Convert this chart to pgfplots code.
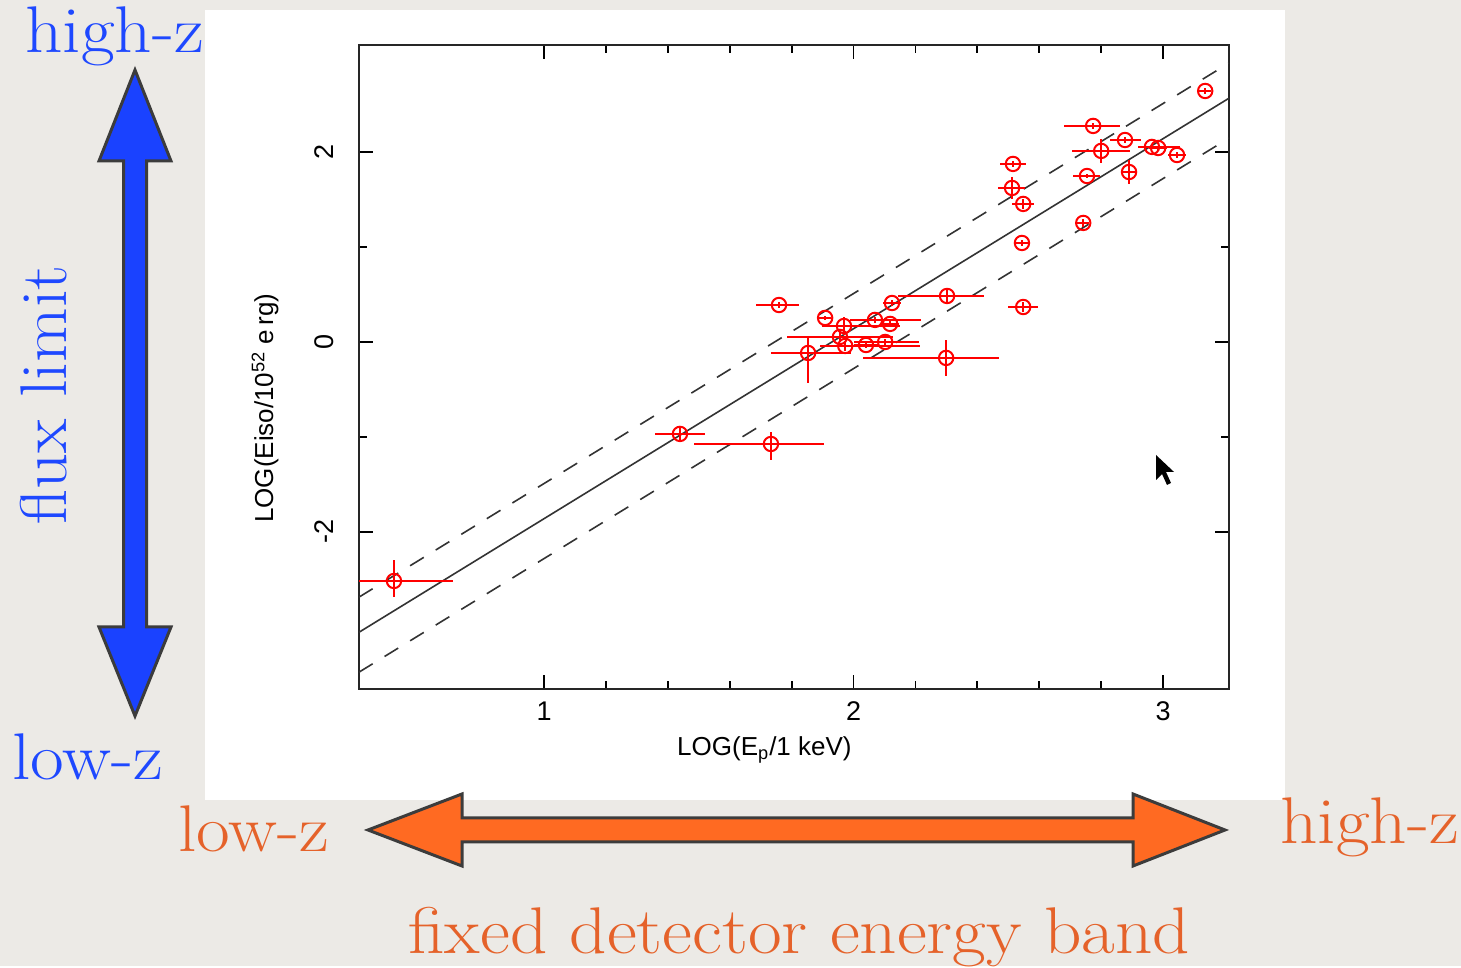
\documentclass[border=0pt]{standalone}
\usepackage{fontspec}
\usepackage{graphicx}
\usepackage{pgfplots}
\pgfplotsset{compat=1.18}
\usepackage{pgfplotstable}
\newfontfamily\chartfont{Liberation Sans}
\definecolor{bgc}{HTML}{ECEAE6}
\definecolor{bluetxt}{HTML}{1E48FF}
\definecolor{bluefill}{HTML}{1A42FF}
\definecolor{orangetxt}{HTML}{E5622A}
\definecolor{orangefill}{HTML}{FF6A22}
\definecolor{outl}{HTML}{3C3C3C}
\newcommand{\deco}[1]{\scalebox{1.11}[1]{#1}}

\pgfplotstableread{
x     y      xm    xp    ym    yp
0.515 -2.516 0.19  0.19  0.17  0.22
1.439 -0.968 0.08  0.08  0.07  0.07
1.733 -1.074 0.25  0.17  0.17  0.13
1.759  0.389 0.074 0.065 0.03  0.03
1.853 -0.116 0.12  0.14  0.32  0.16
1.908  0.253 0.02  0.02  0.02  0.02
1.969  0.168 0.07  0.18  0.09  0.09
1.956  0.053 0.17  0.17  0.05  0.05
1.973 -0.042 0.08  0.24  0.05  0.05
2.040 -0.032 0.04  0.04  0.03  0.03
2.069  0.232 0.08  0.15  0.03  0.03
2.102  0.000 0.10  0.11  0.03  0.03
2.118  0.190 0.03  0.03  0.03  0.03
2.124  0.410 0.03  0.03  0.03  0.03
2.302  0.484 0.16  0.12  0.08  0.08
2.299 -0.168 0.27  0.17  0.19  0.19
2.515  1.874 0.043 0.043 0.03  0.03
2.512  1.621 0.045 0.042 0.12  0.12
2.548  1.453 0.035 0.035 0.05  0.05
2.544  1.042 0.02  0.02  0.03  0.03
2.548  0.368 0.048 0.048 0.05  0.05
2.742  1.253 0.02  0.02  0.04  0.04
2.754  1.747 0.045 0.042 0.02  0.02
2.774  2.274 0.094 0.087 0.03  0.03
2.800  2.011 0.094 0.094 0.13  0.13
2.877  2.126 0.05  0.05  0.03  0.03
2.890  1.789 0.02  0.02  0.13  0.13
2.964  2.053 0.045 0.09  0.02  0.02
2.984  2.042 0.03  0.03  0.02  0.02
3.045  1.968 0.03  0.03  0.03  0.03
3.136  2.642 0.02  0.02  0.03  0.03
}\grbdata

\begin{document}
\begin{tikzpicture}[x=0.5pt,y=0.5pt]
% background and white panel
\fill[bgc] (0,0) rectangle (1461,966);
\fill[white] (205,166) rectangle (1285,956);

\begin{axis}[
  at={(179.5pt,138.5pt)}, anchor=south west,
  scale only axis, width=435pt, height=322pt,
  xmin=0.402, xmax=3.213, ymin=-3.653, ymax=3.126,
  xtick={1,2,3}, ytick={-2,0,2},
  minor x tick num=4, minor y tick num=1,
  tick align=inside,
  major tick length=7pt, minor tick length=4pt,
  every tick/.style={black, line width=0.9pt},
  axis line style={black!85, line width=1.1pt},
  /pgf/number format/assume math mode=true,
  ticklabel style={font=\chartfont\fontsize{13.5}{15}\selectfont},
  yticklabel style={rotate=90, anchor=south},
  yticklabel shift=9pt,
  xticklabel shift=3pt,
  xlabel={LOG(E\textsubscript{p}/1 keV)},
  ylabel={LOG(Eiso/10\textsuperscript{52} e\,rg)},
  every axis x label/.style={at={(axis description cs:0.466,-0.095)}, anchor=center,
     font=\chartfont\fontsize{13}{15}\selectfont},
  every axis y label/.style={at={(axis description cs:-0.108,0.436)}, anchor=center, rotate=90,
     font=\chartfont\fontsize{13}{15}\selectfont},
]
\addplot[black!80, line width=0.8pt] coordinates {(0.402,-3.056) (3.213,2.566)};
\addplot[black!80, line width=0.8pt, dash pattern=on 8pt off 7pt] coordinates {(0.402,-2.686) (3.213,2.936)};
\addplot[black!80, line width=0.8pt, dash pattern=on 8pt off 7pt] coordinates {(0.402,-3.476) (3.213,2.146)};
\addplot[red, line width=1pt, only marks, mark=o, mark size=3.6pt,
  error bars/.cd, x dir=both, x explicit, y dir=both, y explicit,
  error mark=none, error bar style={red, line width=1pt}]
  table[x=x, y=y, x error minus=xm, x error plus=xp, y error minus=ym, y error plus=yp] {\grbdata};
\end{axis}

% mouse cursor
\fill[black] (1156,511) -- (1156,486) -- (1162,492) -- (1167,481) -- (1171,483) -- (1166,494) -- (1174,494) -- cycle;

% blue vertical double arrow
\filldraw[fill=bluefill, draw=outl, line width=1.5pt, line join=miter]
  (135,896) -- (171,805) -- (146.5,805) -- (146.5,339) -- (171,339) -- (135,250)
  -- (99,339) -- (123.5,339) -- (123.5,805) -- (99,805) -- cycle;

% orange horizontal double arrow
\filldraw[fill=orangefill, draw=outl, line width=1.5pt, line join=miter]
  (368,136) -- (462,172) -- (462,148) -- (1133,148) -- (1133,172) -- (1225,136)
  -- (1133,100) -- (1133,124) -- (462,124) -- (462,100) -- cycle;

% texts
\begin{scope}[every node/.style={inner sep=0pt, font=\fontsize{33}{38}\selectfont}]
\node[anchor=base west, text=bluetxt] at (25,913) {\deco{high-z}};
\node[anchor=base west, text=bluetxt] at (12,186) {\deco{low-z}};
\node[anchor=base west, text=bluetxt, rotate=90] at (66,441) {\scalebox{1.07}[1]{flux limit}};
\node[anchor=base west, text=orangetxt] at (178,114) {\deco{low-z}};
\node[anchor=base west, text=orangetxt] at (1280,122) {\deco{high-z}};
\node[anchor=base west, text=orangetxt] at (408,12) {\deco{fixed detector energy band}};
\end{scope}
\end{tikzpicture}
\end{document}
